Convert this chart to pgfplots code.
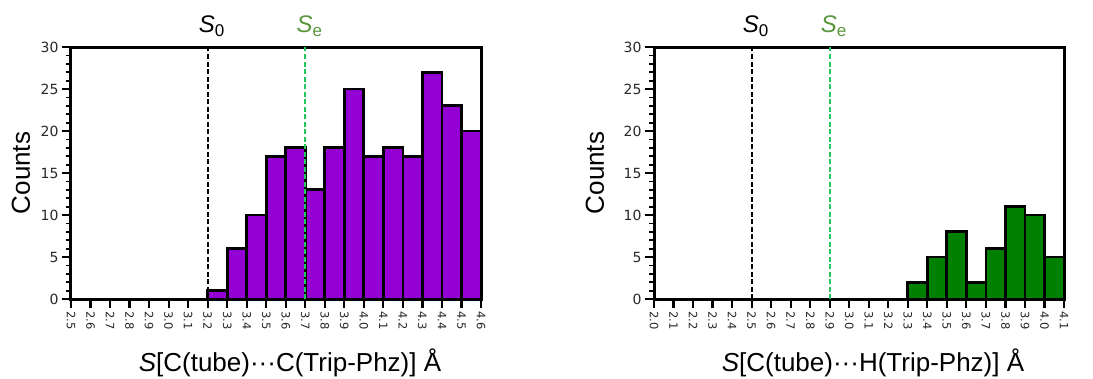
\documentclass[border=0pt]{standalone}
\usepackage{fontspec}
\setmainfont{Liberation Sans}
\newfontfamily\tickfont{DejaVu Sans}
\usepackage{pgfplots}
\pgfplotsset{compat=1.18}
\definecolor{barpurple}{RGB}{148,0,211}
\definecolor{bargreen}{RGB}{0,128,0}
\definecolor{setext}{RGB}{90,150,60}
\definecolor{seline}{RGB}{30,200,90}
\definecolor{ticktext}{RGB}{40,40,40}
\pgfplotsset{
  myhist/.style={
    scale only axis, width=410pt, height=252pt,
    ymin=0, ymax=30,
    ytick={0,5,10,15,20,25,30},
    minor y tick num=4,
    tick align=outside,
    xtick pos=bottom, ytick pos=left,
    axis line style={line width=3pt},
    major tick style={line width=2.2pt, black},
    minor tick style={line width=1.8pt, black},
    major tick length=9pt, minor tick length=5pt,
    /pgf/number format/assume math mode=true,
    /pgf/number format/.cd, fixed, fixed zerofill, precision=1, /pgfplots/.cd,
    yticklabel style={font=\tickfont\fontsize{14}{14}\selectfont, text=ticktext,
      /pgf/number format/precision=0, /pgf/number format/fixed zerofill=false},
    xticklabel style={font=\tickfont\fontsize{11.5}{11.5}\selectfont, text=ticktext,
      rotate=-90, anchor=west},
    label style={font=\fontsize{26}{26}\selectfont},
    ylabel style={at={(axis description cs:0,0.5)}, anchor=center},
    xlabel style={at={(axis description cs:0.5,0)}, anchor=base, yshift=-72pt, xshift=14pt},
    ylabel={Counts},
    clip=false,
  }
}
\begin{document}
\begin{tikzpicture}
\useasboundingbox (-71pt,-79pt) rectangle (1022pt,299pt);
\begin{axis}[myhist, at={(0pt,0pt)}, anchor=south west,
  xmin=2.5, xmax=4.6,
  xtick={2.5,2.6,2.7,2.8,2.9,3.0,3.1,3.2,3.3,3.4,3.5,3.6,3.7,3.8,3.9,4.0,4.1,4.2,4.3,4.4,4.5,4.6},
  ylabel style={yshift=50pt},
  xlabel={\textit{S}[C(tube)···C(Trip-Phz)] Å}]
\addplot[ybar interval, fill=barpurple, draw=black, line width=2.8pt] coordinates {
(2.5,0)(2.6,0)(2.7,0)(2.8,0)(2.9,0)(3.0,0)(3.1,0)
(3.2,1)(3.3,6)(3.4,10)(3.5,17)(3.6,18)(3.7,13)(3.8,18)(3.9,25)
(4.0,17)(4.1,18)(4.2,17)(4.3,27)(4.4,23)(4.5,20)(4.6,20)};
\addplot[black, line width=2pt, dash pattern=on 5pt off 2.5pt] coordinates {(3.2,0)(3.2,30)};
\addplot[seline, line width=2pt, dash pattern=on 5pt off 2.5pt] coordinates {(3.7,0)(3.7,30)};
\node[anchor=base, font=\fontsize{24}{24}\selectfont] at (axis cs:3.2,30) [yshift=15pt,xshift=4pt] {\textit{S}\raisebox{-0.35ex}{\fontsize{17}{17}\selectfont 0}};
\node[anchor=base, font=\fontsize{24}{24}\selectfont, text=setext] at (axis cs:3.7,30) [yshift=15pt,xshift=4pt] {\textit{S}\raisebox{-0.35ex}{\fontsize{17}{17}\selectfont e}};
\end{axis}
\begin{axis}[myhist, at={(583pt,0pt)}, anchor=south west,
  xmin=2.0, xmax=4.1,
  xtick={2.0,2.1,2.2,2.3,2.4,2.5,2.6,2.7,2.8,2.9,3.0,3.1,3.2,3.3,3.4,3.5,3.6,3.7,3.8,3.9,4.0,4.1},
  ylabel style={yshift=59pt},
  xlabel={\textit{S}[C(tube)···H(Trip-Phz)] Å}]
\addplot[ybar interval, fill=bargreen, draw=black, line width=2.8pt] coordinates {
(2.0,0)(2.1,0)(2.2,0)(2.3,0)(2.4,0)(2.5,0)(2.6,0)(2.7,0)(2.8,0)(2.9,0)(3.0,0)(3.1,0)(3.2,0)
(3.3,2)(3.4,5)(3.5,8)(3.6,2)(3.7,6)(3.8,11)(3.9,10)(4.0,5)(4.1,5)};
\addplot[black, line width=2pt, dash pattern=on 5pt off 2.5pt] coordinates {(2.5,0)(2.5,30)};
\addplot[seline, line width=2pt, dash pattern=on 5pt off 2.5pt] coordinates {(2.9,0)(2.9,30)};
\node[anchor=base, font=\fontsize{24}{24}\selectfont] at (axis cs:2.5,30) [yshift=15pt,xshift=4pt] {\textit{S}\raisebox{-0.35ex}{\fontsize{17}{17}\selectfont 0}};
\node[anchor=base, font=\fontsize{24}{24}\selectfont, text=setext] at (axis cs:2.9,30) [yshift=15pt,xshift=4pt] {\textit{S}\raisebox{-0.35ex}{\fontsize{17}{17}\selectfont e}};
\end{axis}
\end{tikzpicture}
\end{document}
